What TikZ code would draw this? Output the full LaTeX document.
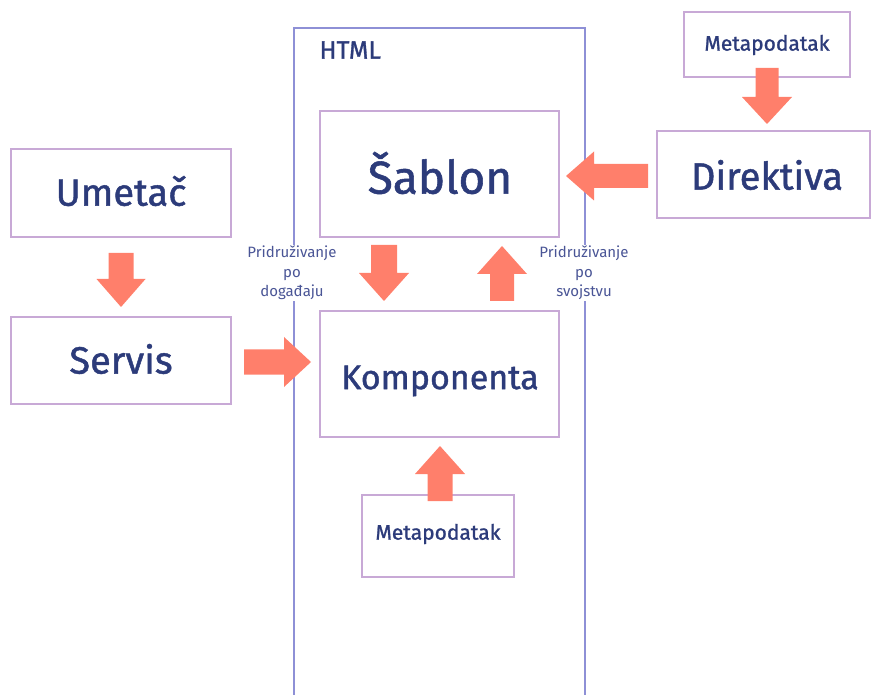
\documentclass[tikz,border=0pt]{standalone}
\usepackage{fontspec}
\setmainfont{Fira Sans}[UprightFeatures={FakeBold=1.2}]
\newfontfamily\lightf{Fira Sans}
\definecolor{navy}{HTML}{2C3B7A}
\definecolor{lnavy}{HTML}{4A5596}
\definecolor{boxc}{HTML}{C8A9D6}
\definecolor{htmlc}{HTML}{8E90D6}
\definecolor{arrc}{HTML}{FF7F6B}
\newcommand\myDown[6]{\fill[arr] (#1-#2,#3) -- (#1+#2,#3) -- (#1+#2,#4) -- (#1+#5,#4) -- (#1,#6) -- (#1-#5,#4) -- (#1-#2,#4) -- cycle;}
\newcommand\myRight[6]{\fill[arr] (#3,#1-#2) -- (#3,#1+#2) -- (#4,#1+#2) -- (#4,#1+#5) -- (#6,#1) -- (#4,#1-#5) -- (#4,#1-#2) -- cycle;}
\begin{document}
\begin{tikzpicture}[x=1pt,y=-1pt,
  arr/.style={fill=arrc},
  bx/.style={draw=boxc,line width=1.2pt},
  big/.style={text=navy,font=\fontsize{38}{44}\selectfont},
  mid/.style={text=navy,font=\fontsize{21}{25}\selectfont},
  lbl/.style={text=lnavy,fill=white,inner sep=1pt,align=center,font=\lightf\fontsize{15}{19.5}\selectfont}]
\useasboundingbox (0,0) rectangle (871,695);
% HTML container
\draw[htmlc,line width=1.2pt] (294,697) -- (294,28) -- (585,28) -- (585,697);
\node[anchor=west,text=navy,font=\fontsize{25}{30}\selectfont] (html) at (316,50) {HTML};
% boxes
\draw[bx] (11,149) rectangle (231,237);
\node[big] (umetac) at (121,191) {Umetač};
\draw[bx] (11,317) rectangle (231,404);
\node[big] (servis) at (121,359) {Servis};
\draw[bx] (320,111) rectangle (559,237);
\node[text=navy,font=\fontsize{46}{54}\selectfont] (sablon) at (440,173) {Šablon};
\draw[bx] (320,311) rectangle (559,437);
\node[text=navy,font=\fontsize{34}{40}\selectfont] (komp) at (440,381) {Komponenta};
\draw[bx] (657,131) rectangle (870,218);
\node[big] (dir) at (767,175) {Direktiva};
\draw[bx] (684,12) rectangle (850,77);
\node[mid] (meta1) at (767,45) {Metapodatak};
\draw[bx] (362,495) rectangle (514,577);
\node[mid] (meta2) at (438,534) {Metapodatak};
% labels
\node[lbl] (pde) at (292,273) {Pridruživanje\\po\\događaju};
\node[lbl] (psv) at (584,273) {Pridruživanje\\po\\svojstvu};
% arrows
\myDown{121}{12.5}{253}{279}{24.5}{307}
\myDown{384}{13}{245}{273}{25}{301}
\myDown{502}{12}{301}{274}{25}{246}
\myDown{440}{12.5}{501}{474}{25}{446}
\myDown{767}{11.5}{68}{97}{25}{124}
\myRight{362}{12.5}{244}{284}{25}{311}
\myRight{176}{12}{648}{594}{24.5}{566}
\end{tikzpicture}
\end{document}
